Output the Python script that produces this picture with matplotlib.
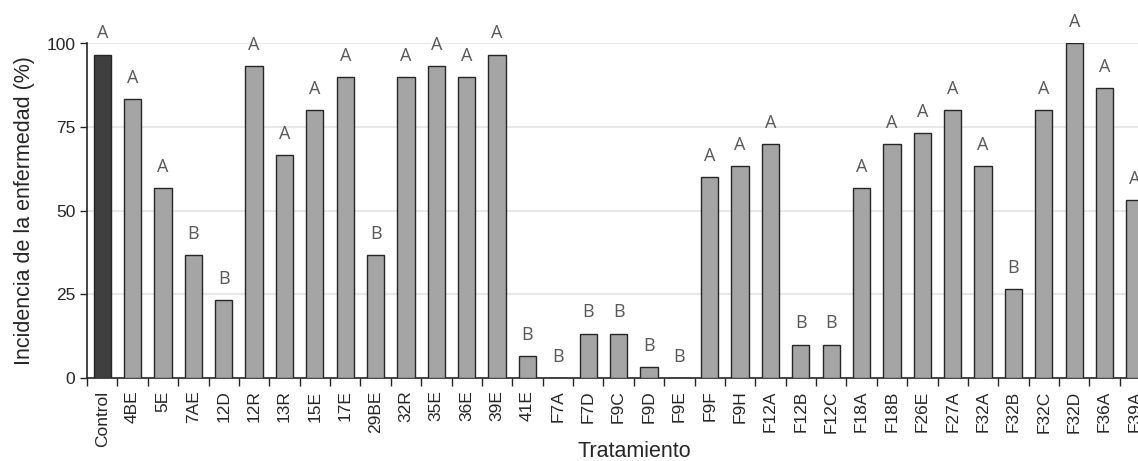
import numpy as np
import matplotlib.pyplot as plt

tratamientos = ['Control', '4BE', '5E', '7AE', '12D', '12R', '13R', '15E', '17E', '29BE',
                '32R', '35E', '36E', '39E', '41E', 'F7A', 'F7D', 'F9C', 'F9D', 'F9E',
                'F9F', 'F9H', 'F12A', 'F12B', 'F12C', 'F18A', 'F18B', 'F26E', 'F27A',
                'F32A', 'F32B', 'F32C', 'F32D', 'F36A', 'F39A']
incidencia = [96.7, 83.3, 56.7, 36.7, 23.3, 93.3, 66.7, 80.0, 90.0, 36.7,
              90.0, 93.3, 90.0, 96.7, 6.7, 0.0, 13.3, 13.3, 3.3, 0.0,
              60.0, 63.3, 70.0, 10.0, 10.0, 56.7, 70.0, 73.3, 80.0,
              63.3, 26.7, 80.0, 100.0, 86.7, 53.3]
letras = ['A', 'A', 'A', 'B', 'B', 'A', 'A', 'A', 'A', 'B',
          'A', 'A', 'A', 'A', 'B', 'B', 'B', 'B', 'B', 'B',
          'A', 'A', 'A', 'B', 'B', 'A', 'A', 'A', 'A',
          'A', 'B', 'A', 'A', 'A', 'A']

plt.rcParams['font.family'] = ['Liberation Sans', 'DejaVu Sans']

fig = plt.figure(figsize=(11.38, 4.61), dpi=100)
ax = fig.add_axes([87/1138, 83/461, 1 - 87/1138, 334.5/461])

x = np.arange(len(tratamientos))
colores = ['#3f3f3f'] + ['#a5a5a5'] * (len(tratamientos) - 1)
ax.bar(x, incidencia, width=0.57, color=colores, edgecolor='#262626', linewidth=1, zorder=3)

for xi, v, l in zip(x, incidencia, letras):
    ax.text(xi, v + 4.8, l, ha='center', va='baseline', fontsize=13, color='#595959',
            family=['Open Sans', 'DejaVu Sans'], clip_on=False)

ax.set_xlim(-0.5, 34.1)
ax.set_ylim(0, 100)
ax.set_yticks([0, 25, 50, 75, 100])
ax.yaxis.grid(True, color='#e8e8e8', linewidth=1.5, zorder=0)

ax.set_xticks(x)
ax.set_xticklabels(tratamientos, rotation=90, fontsize=12.5, color='#262626')
ax.set_xticks(np.arange(len(tratamientos)) - 0.5, minor=True)
ax.tick_params(axis='x', which='major', length=0, pad=9)
ax.tick_params(axis='x', which='minor', length=6, width=1, color='#262626')
ax.tick_params(axis='y', length=5, width=1, labelsize=12.5, color='#262626', labelcolor='#262626')

for s in ['top', 'right']:
    ax.spines[s].set_visible(False)
for s in ['left', 'bottom']:
    ax.spines[s].set_color('#262626')
    ax.spines[s].set_linewidth(1.2)

ax.set_ylabel('Incidencia de la enfermedad (%)', fontsize=15.5, color='#262626', labelpad=8)
ax.set_xlabel('Tratamiento', fontsize=15.5, color='#262626')
ax.xaxis.set_label_coords(0.521, -0.221)
ax.xaxis.label.set_va('center')

fig.savefig('out.png', dpi=100)
